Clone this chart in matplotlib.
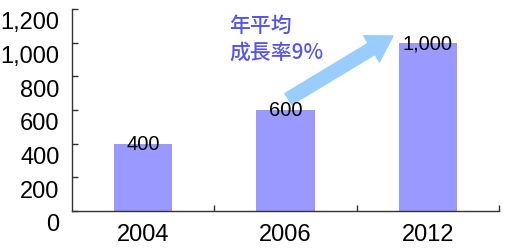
import matplotlib
matplotlib.use("Agg")
import matplotlib.pyplot as plt
import matplotlib.transforms as mtransforms
from matplotlib.patches import FancyArrowPatch

years = ["2004", "2006", "2012"]
values = [400, 600, 1000]
value_labels = ["400", "600", "1,000"]
yticks = [0, 200, 400, 600, 800, 1000, 1200]
ytick_labels = ["0", "200", "400", "600", "800", "1,000", "1,200"]
note = "年平均\n成長率9%"

plt.rcParams['font.family'] = ['Liberation Sans', 'DejaVu Sans']

fig = plt.figure(figsize=(5.10, 2.51), dpi=100)
ax = fig.add_axes([72/510, 39/251, 427/510, 202/251])

x = range(len(years))
ax.bar(x, values, width=0.41, color="#9999FF", zorder=2)

for i, v in enumerate(values):
    ax.text(i, v, value_labels[i], ha="center", va="center", fontsize=14.5, color="black", zorder=3)

ax.set_xlim(-0.5, 2.5)
ax.set_ylim(0, 1200)

ax.set_yticks(yticks)
ax.set_yticklabels(ytick_labels, fontsize=17)
ax.tick_params(axis="y", direction="in", length=4, width=1, color="#333333", pad=9)
offset = mtransforms.ScaledTranslation(0, -0.11, fig.dpi_scale_trans)
for lab in ax.get_yticklabels():
    lab.set_transform(lab.get_transform() + offset)

ax.set_xticks(list(x))
ax.set_xticklabels(years, fontsize=17)
ax.set_xticks([0.5, 1.5, 2.5], minor=True)
ax.tick_params(axis="x", which="major", length=0, pad=9)
ax.tick_params(axis="x", which="minor", direction="in", length=4, width=1, color="#333333")

for s in ["top", "right"]:
    ax.spines[s].set_visible(False)
for s in ["left", "bottom"]:
    ax.spines[s].set_color("#333333")
    ax.spines[s].set_linewidth(1)

# growth arrow from the 2006 bar towards the 2012 bar
arrow = FancyArrowPatch((1.02, values[1] + 65), (1.755, values[2] + 40),
                        arrowstyle="simple,head_length=0.9,head_width=1.1,tail_width=0.47",
                        mutation_scale=20, color="#99CCFF", shrinkA=0, shrinkB=0, zorder=1)
ax.add_patch(arrow)

fig.text(229/510, 1 - 15/251, note, ha="left", va="top", fontsize=15, color="#5555EE",
         family=['Noto Sans CJK JP', 'DejaVu Sans'], fontweight="medium", linespacing=1.3)

fig.savefig("out.png", dpi=100)
